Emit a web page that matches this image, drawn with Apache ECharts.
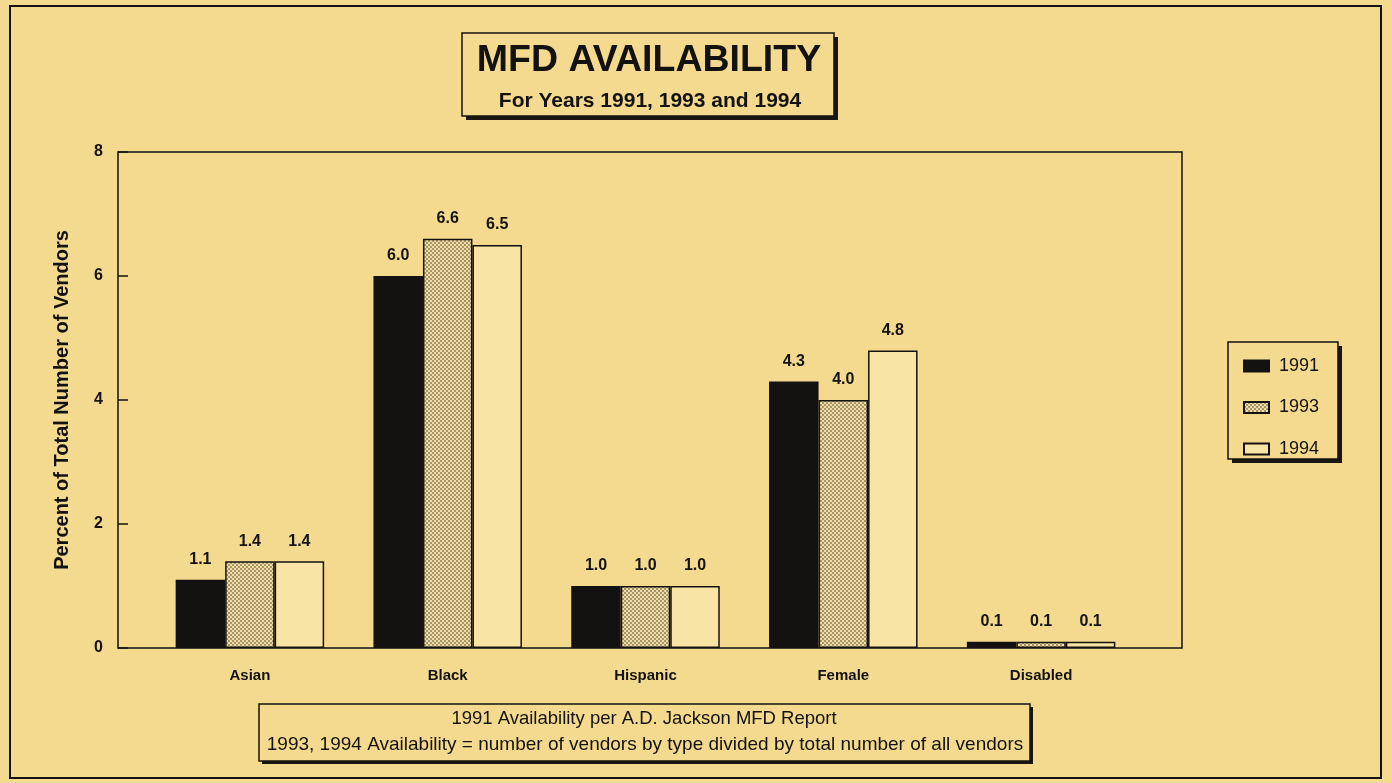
<!DOCTYPE html>
<html>
<head>
<meta charset="utf-8">
<title>MFD Availability</title>
<script src="https://cdn.jsdelivr.net/npm/echarts@6/dist/echarts.min.js"></script>
<style>
  html, body { margin: 0; padding: 0; background: #F4DA8E; }
  #chart { width: 1392px; height: 783px; }
</style>
</head>
<body>
<div id="chart"></div>
<script>
// Vendor groups and yearly availability (percent of all vendors)
const categories = ['Asian', 'Black', 'Hispanic', 'Female', 'Disabled'];
const years = ['1991', '1993', '1994'];
const values1991 = [1.1, 6.0, 1.0, 4.3, 0.1];
const values1993 = [1.4, 6.6, 1.0, 4.0, 0.1];
const values1994 = [1.4, 6.5, 1.0, 4.8, 0.1];
const yTicks = [0, 2, 4, 6, 8];

const FONT = '"Liberation Sans", Arial, Helvetica, sans-serif';
const BG = '#F4DA8E';
const INK = '#141210';

// stippled fill used for the 1993 bars
function stipple() {
  const c = document.createElement('canvas');
  c.width = 4; c.height = 4;
  const g = c.getContext('2d');
  g.fillStyle = '#EEDCA6';
  g.fillRect(0, 0, 4, 4);
  g.fillStyle = '#a8956a';
  g.fillRect(0, 0, 2, 2);
  g.fillRect(2, 2, 2, 2);
  return c;
}
const pattern = { image: stipple(), repeat: 'repeat' };

const chart = echarts.init(document.getElementById('chart'), null, { renderer: 'canvas' });

const label = {
  show: true,
  position: 'top',
  distance: 12,
  color: INK,
  fontFamily: FONT,
  fontWeight: 'bold',
  fontSize: 16,
  formatter: p => p.value.toFixed(1)
};

function boxWithShadow(x, y, w, h, off) {
  return [
    { type: 'rect', shape: { x: x + off, y: y + off, width: w, height: h },
      style: { fill: '#1a1612' }, z: 1, silent: true },
    { type: 'rect', shape: { x: x, y: y, width: w, height: h },
      style: { fill: BG, stroke: INK, lineWidth: 1.5 }, z: 2, silent: true }
  ];
}

const graphics = [
  // outer page border
  { type: 'rect', shape: { x: 10, y: 6, width: 1371, height: 772 },
    style: { fill: 'none', stroke: INK, lineWidth: 2 }, z: 0, silent: true },
  // plot frame
  { type: 'rect', shape: { x: 118, y: 152, width: 1064, height: 496 },
    style: { fill: 'none', stroke: INK, lineWidth: 1.5 }, z: 20, silent: true },
  ...boxWithShadow(462, 33, 372, 83, 4),
  { type: 'text', x: 649, y: 61, z: 3, silent: true,
    style: { text: 'MFD AVAILABILITY', fill: INK, font: 'bold 37.5px ' + FONT, align: 'center', verticalAlign: 'middle' } },
  { type: 'text', x: 650, y: 101, z: 3, silent: true,
    style: { text: 'For Years 1991, 1993 and 1994', fill: INK, font: 'bold 21px ' + FONT, align: 'center', verticalAlign: 'middle' } },
  ...boxWithShadow(1228, 342, 110, 117, 4),
  ...boxWithShadow(259, 704, 771, 57, 3),
  { type: 'text', x: 644, y: 719, z: 3, silent: true,
    style: { text: '1991 Availability per A.D. Jackson MFD Report', fill: INK, font: '18.5px ' + FONT, align: 'center', verticalAlign: 'middle' } },
  { type: 'text', x: 645, y: 745, z: 3, silent: true,
    style: { text: '1993, 1994 Availability = number of vendors by type divided by total number of all vendors', fill: INK, font: '19px ' + FONT, align: 'center', verticalAlign: 'middle' } }
];

chart.setOption({
  backgroundColor: BG,
  animation: false,
  graphic: graphics,
  legend: {
    orient: 'vertical',
    left: 1238,
    top: 352,
    itemWidth: 25,
    itemHeight: 11,
    itemGap: 23.5,
    icon: 'rect',
    data: years,
    textStyle: { color: INK, fontFamily: FONT, fontSize: 18, padding: [0, 0, 0, 5] },
    z: 10
  },
  grid: { left: 151, right: 252, top: 152, bottom: 135, containLabel: false },
  xAxis: {
    type: 'category',
    data: categories,
    axisLine: { show: false },
    axisTick: { show: false },
    axisLabel: { color: INK, fontFamily: FONT, fontWeight: 'bold', fontSize: 15, margin: 20 }
  },
  yAxis: {
    type: 'value',
    min: yTicks[0],
    max: yTicks[yTicks.length - 1],
    interval: 2,
    offset: 33,
    name: 'Percent of Total Number of Vendors',
    nameLocation: 'middle',
    nameGap: 46,
    nameRotate: 90,
    nameTextStyle: { color: INK, fontFamily: FONT, fontWeight: 'bold', fontSize: 20 },
    axisLine: { show: false },
    axisTick: { show: true, inside: true, length: 10, lineStyle: { color: INK, width: 1.5 } },
    splitLine: { show: false },
    axisLabel: { color: INK, fontFamily: FONT, fontWeight: 'bold', fontSize: 16, margin: 15 }
  },
  series: [
    { name: years[0], type: 'bar', data: values1991, barWidth: 49.5, barGap: '0%',
      itemStyle: { color: INK, borderColor: INK, borderWidth: 1.5 }, label },
    { name: years[1], type: 'bar', data: values1993, barWidth: 49.5, barGap: '0%',
      itemStyle: { color: pattern, borderColor: INK, borderWidth: 1.5 }, label },
    { name: years[2], type: 'bar', data: values1994, barWidth: 49.5, barGap: '0%',
      itemStyle: { color: '#F8E4A4', borderColor: INK, borderWidth: 1.5 }, label }
  ]
});
</script>
</body>
</html>
